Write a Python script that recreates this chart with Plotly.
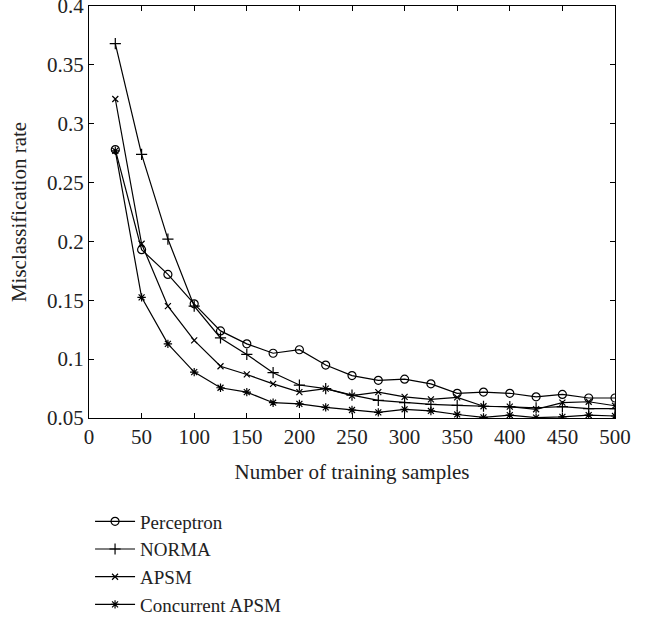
import plotly.graph_objects as go

samples = [25, 50, 75, 100, 125, 150, 175, 200, 225, 250, 275, 300, 325, 350, 375, 400, 425, 450, 475, 500]

perceptron = [0.278, 0.193, 0.172, 0.147, 0.124, 0.113, 0.105, 0.108, 0.095, 0.086, 0.082, 0.083, 0.079, 0.071, 0.072, 0.071, 0.068, 0.070, 0.067, 0.067]
norma = [0.368, 0.274, 0.202, 0.145, 0.118, 0.104, 0.0885, 0.078, 0.075, 0.0695, 0.065, 0.063, 0.0616, 0.0607, 0.060, 0.0596, 0.0587, 0.0596, 0.058, 0.058]
apsm = [0.321, 0.198, 0.145, 0.116, 0.094, 0.087, 0.079, 0.072, 0.075, 0.069, 0.072, 0.068, 0.0658, 0.0675, 0.060, 0.0596, 0.0574, 0.063, 0.0638, 0.0604]
concurrent = [0.277, 0.1525, 0.113, 0.089, 0.0757, 0.072, 0.063, 0.062, 0.059, 0.0568, 0.0548, 0.0574, 0.056, 0.053, 0.0505, 0.0525, 0.0503, 0.051, 0.0525, 0.0517]

series_names = ["Perceptron", "NORMA", "APSM", "Concurrent APSM"]
series_values = [perceptron, norma, apsm, concurrent]
symbols = ["circle-open", "cross-thin-open", "x-thin-open", "asterisk-open"]
sizes = [8, 8, 6, 7]

FONT = "Liberation Serif"

fig = go.Figure()
for name, vals, sym, sz in zip(series_names, series_values, symbols, sizes):
    fig.add_trace(go.Scatter(
        x=samples, y=vals, name=name, mode="lines+markers",
        line=dict(color="black", width=1.2),
        marker=dict(symbol=sym, size=sz, color="black", line=dict(color="black", width=1.2)),
    ))

axis_common = dict(
    showline=True, linecolor="black", linewidth=1, mirror="ticks",
    ticks="inside", ticklen=5, tickwidth=1, tickcolor="black",
    showgrid=False, zeroline=False, ticklabeloverflow="allow", automargin=False,
    tickfont=dict(family=FONT, size=21, color="#222"),
)

fig.update_layout(
    width=660, height=618,
    margin=dict(l=89, r=45, t=6, b=200, autoexpand=False),
    paper_bgcolor="white", plot_bgcolor="white",
    font=dict(family=FONT, size=21, color="#222"),
    xaxis=dict(range=[0, 500], tickmode="linear", tick0=0, dtick=50,
               title=dict(text="Number of training samples", font=dict(family=FONT, size=21), standoff=16),
               **axis_common),
    yaxis=dict(range=[0.05, 0.4], tickmode="linear", tick0=0.05, dtick=0.05,
               title=dict(text="Misclassification rate", font=dict(family=FONT, size=21), standoff=14),
               **axis_common),
    legend=dict(x=0.002, xanchor="left", y=-0.205, yanchor="top",
                font=dict(family=FONT, size=19, color="#222"),
                bgcolor="rgba(0,0,0,0)", itemwidth=40, tracegroupgap=0),
    showlegend=True,
)

fig.write_html("out.html", config={"displayModeBar": False},
               post_script="document.body.style.margin='0';")
